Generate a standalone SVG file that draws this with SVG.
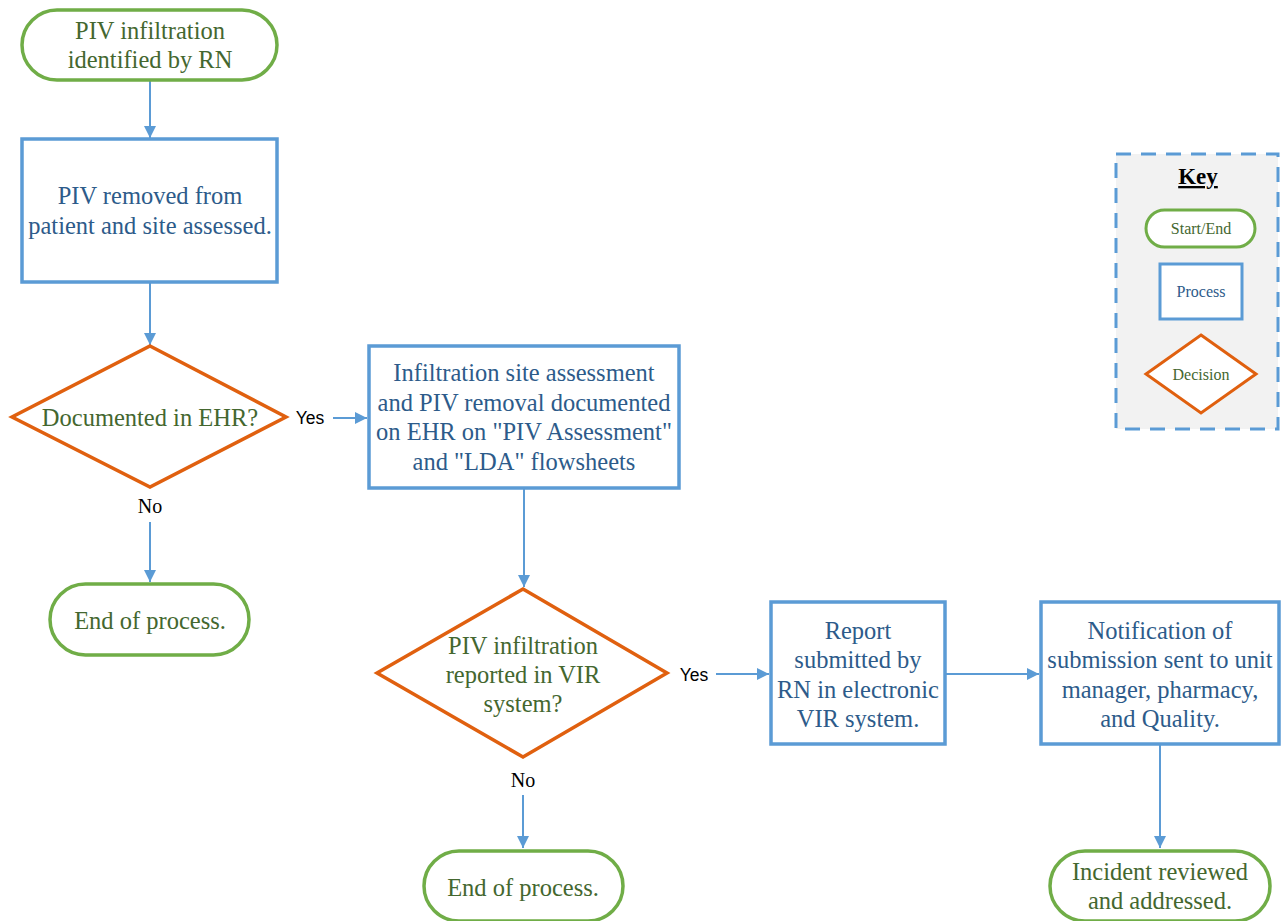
<svg xmlns="http://www.w3.org/2000/svg" width="1282" height="921" viewBox="0 0 1282 921">
<defs>
<marker id="ah" markerWidth="12" markerHeight="12" refX="10" refY="5" orient="auto" markerUnits="userSpaceOnUse" viewBox="0 0 10 10">
<path d="M0,0 L10,5 L0,10 Z" fill="#5B9BD5"/>
</marker>
<style>
.se{fill:#fff;stroke:#70AD47;stroke-width:3.5}
.pr{fill:#fff;stroke:#5B9BD5;stroke-width:3.5}
.de{fill:#fff;stroke:#E0600F;stroke-width:3.5;stroke-linejoin:miter}
.tg{font-family:"Liberation Serif","Times New Roman",serif;font-size:24.5px;fill:#44672F;text-anchor:middle}
.tb{font-family:"Liberation Serif","Times New Roman",serif;font-size:24.5px;fill:#2D5B8A;text-anchor:middle}
.lb{font-family:"Liberation Sans",Arial,sans-serif;font-size:17.5px;fill:#000;text-anchor:middle}
.ln{font-family:"Liberation Serif","Times New Roman",serif;font-size:20px;fill:#000;text-anchor:middle}
.cn{fill:none;stroke:#5B9BD5;stroke-width:2;marker-end:url(#ah)}
.kg{font-family:"Liberation Serif","Times New Roman",serif;font-size:16px;fill:#44672F;text-anchor:middle}
.kb{font-family:"Liberation Serif","Times New Roman",serif;font-size:16px;fill:#2D5B8A;text-anchor:middle}
</style>
</defs>
<rect width="1282" height="921" fill="#fff"/>

<g id="connectors">
<line class="cn" x1="150" y1="81" x2="150" y2="138"/>
<line class="cn" x1="150" y1="283" x2="150" y2="345"/>
<line class="cn" x1="333" y1="418" x2="367" y2="418"/>
<line class="cn" x1="150" y1="522" x2="150" y2="582"/>
<line class="cn" x1="524" y1="489" x2="524" y2="587"/>
<line class="cn" x1="716" y1="674" x2="769" y2="674"/>
<line class="cn" x1="946" y1="674" x2="1039" y2="674"/>
<line class="cn" x1="523" y1="795" x2="523" y2="848"/>
<line class="cn" x1="1160" y1="745" x2="1160" y2="848"/>
</g>

<g id="labels">
<text class="lb" x="310" y="424">Yes</text>
<text class="ln" x="150" y="513">No</text>
<text class="lb" x="694" y="681">Yes</text>
<text class="ln" x="523" y="787">No</text>
</g>

<g id="start">
<rect class="se" x="22" y="10" width="255" height="70" rx="35"/>
<text class="tg" x="150" y="39">PIV infiltration</text>
<text class="tg" x="150" y="68">identified by RN</text>
</g>

<g id="remove">
<rect class="pr" x="22" y="139" width="255" height="143"/>
<text class="tb" x="150" y="204">PIV removed from</text>
<text class="tb" x="150" y="234">patient and site assessed.</text>
</g>

<g id="decision-ehr">
<polygon class="de" points="150,346 286,417 150,487 12,417"/>
<text class="tg" x="150" y="426">Documented in EHR?</text>
</g>

<g id="documented">
<rect class="pr" x="369" y="346" width="310" height="142"/>
<text class="tb" x="524" y="381">Infiltration site assessment</text>
<text class="tb" x="524" y="411">and PIV removal documented</text>
<text class="tb" x="524" y="440">on EHR on "PIV Assessment"</text>
<text class="tb" x="524" y="470">and "LDA" flowsheets</text>
</g>

<g id="end1">
<rect class="se" x="50" y="584" width="199" height="71" rx="35.5"/>
<text class="tg" x="150" y="629">End of process.</text>
</g>

<g id="decision-vir">
<polygon class="de" points="523,589 667,673 523,757 377,673"/>
<text class="tg" x="523" y="654">PIV infiltration</text>
<text class="tg" x="523" y="683">reported in VIR</text>
<text class="tg" x="523" y="712">system?</text>
</g>

<g id="report">
<rect class="pr" x="771" y="602" width="174" height="142"/>
<text class="tb" x="858" y="639">Report</text>
<text class="tb" x="858" y="668">submitted by</text>
<text class="tb" x="858" y="698">RN in electronic</text>
<text class="tb" x="858" y="727">VIR system.</text>
</g>

<g id="notify">
<rect class="pr" x="1041" y="602" width="238" height="142"/>
<text class="tb" x="1160" y="639">Notification of</text>
<text class="tb" x="1160" y="668">submission sent to unit</text>
<text class="tb" x="1160" y="698">manager, pharmacy,</text>
<text class="tb" x="1160" y="727">and Quality.</text>
</g>

<g id="end2">
<rect class="se" x="424" y="851" width="199" height="70" rx="35"/>
<text class="tg" x="523" y="896">End of process.</text>
</g>

<g id="end3">
<rect class="se" x="1050" y="851" width="220" height="70" rx="35"/>
<text class="tg" x="1160" y="880">Incident reviewed</text>
<text class="tg" x="1160" y="909">and addressed.</text>
</g>

<g id="key">
<rect x="1116" y="154" width="162" height="275" fill="#F2F2F2" stroke="#5B9BD5" stroke-width="3" stroke-dasharray="15,10"/>
<text x="1198" y="184" font-family="Liberation Serif, Times New Roman, serif" font-size="23" font-weight="bold" text-anchor="middle" text-decoration="underline" fill="#000">Key</text>
<rect x="1146" y="210" width="109" height="37" rx="18.5" fill="#fff" stroke="#70AD47" stroke-width="3"/>
<text class="kg" x="1201" y="234">Start/End</text>
<rect x="1160" y="264" width="82" height="55" fill="#fff" stroke="#5B9BD5" stroke-width="3"/>
<text class="kb" x="1201" y="297">Process</text>
<polygon points="1201,335 1256,374 1201,413 1146,374" fill="#fff" stroke="#E0600F" stroke-width="3"/>
<text class="kg" x="1201" y="380">Decision</text>
</g>
</svg>
